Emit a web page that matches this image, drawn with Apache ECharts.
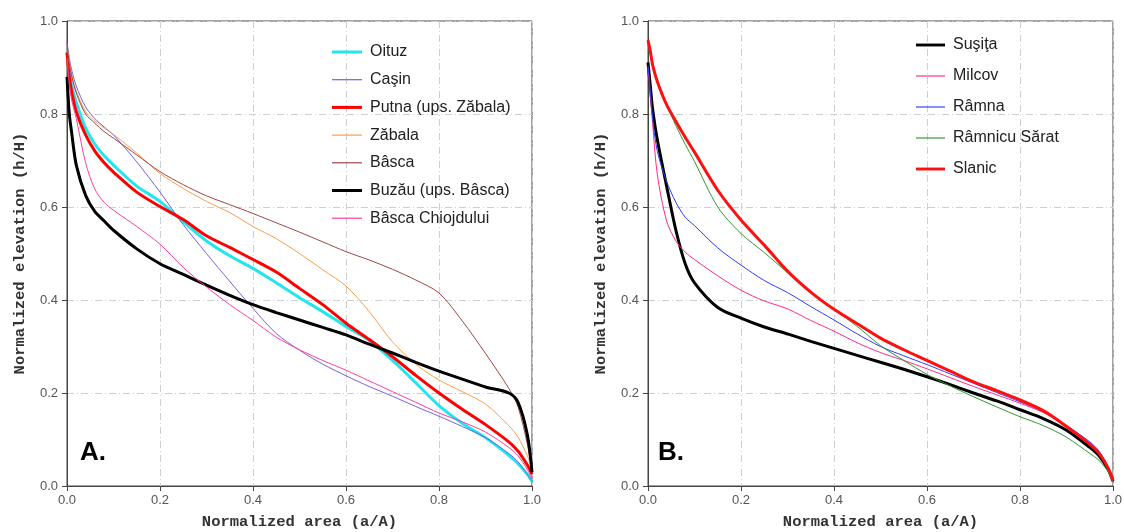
<!DOCTYPE html>
<html>
<head>
<meta charset="utf-8">
<script src="https://cdn.jsdelivr.net/npm/echarts@6/dist/echarts.min.js"></script>
<style>
  html, body { margin: 0; padding: 0; background: #fff; }
  #chart { width: 1124px; height: 532px; }
</style>
</head>
<body>
<div id="chart"></div>
<script>
// normalized area (a/A) sample positions shared by every curve
const areaSteps = [0, 0.005, 0.01, 0.02, 0.04, 0.06, 0.08, 0.1, 0.15, 0.2, 0.25, 0.3, 0.35, 0.4,
  0.45, 0.5, 0.55, 0.6, 0.65, 0.7, 0.75, 0.8, 0.85, 0.9, 0.95, 0.97, 0.99, 1];

// panel A – normalized elevation (h/H)
const oituz = [0.935, 0.895, 0.862, 0.825, 0.77, 0.735, 0.71, 0.69, 0.645, 0.612, 0.568, 0.527, 0.495, 0.468,
  0.437, 0.405, 0.375, 0.343, 0.313, 0.27, 0.222, 0.173, 0.135, 0.104, 0.066, 0.048, 0.025, 0.01];
const casin = [0.955, 0.92, 0.895, 0.86, 0.815, 0.79, 0.772, 0.755, 0.697, 0.632, 0.562, 0.5, 0.44, 0.382,
  0.328, 0.292, 0.262, 0.237, 0.214, 0.193, 0.171, 0.15, 0.128, 0.104, 0.07, 0.052, 0.025, 0.01];
const putna = [0.932, 0.88, 0.848, 0.805, 0.755, 0.72, 0.695, 0.675, 0.632, 0.601, 0.573, 0.538, 0.513, 0.487,
  0.46, 0.425, 0.39, 0.35, 0.315, 0.278, 0.238, 0.2, 0.165, 0.132, 0.095, 0.075, 0.045, 0.025];
const zabala = [0.95, 0.912, 0.885, 0.85, 0.805, 0.785, 0.77, 0.756, 0.716, 0.672, 0.64, 0.612, 0.588, 0.558,
  0.532, 0.5, 0.465, 0.43, 0.375, 0.31, 0.262, 0.228, 0.203, 0.176, 0.13, 0.105, 0.065, 0.04];
const basca = [0.95, 0.908, 0.882, 0.845, 0.8, 0.78, 0.762, 0.748, 0.712, 0.676, 0.648, 0.624, 0.605, 0.586,
  0.566, 0.546, 0.525, 0.504, 0.486, 0.466, 0.443, 0.415, 0.355, 0.285, 0.21, 0.17, 0.09, 0.03];
const buzau = [0.88, 0.8, 0.76, 0.69, 0.625, 0.59, 0.57, 0.55, 0.51, 0.478, 0.455, 0.432, 0.41, 0.39,
  0.373, 0.357, 0.341, 0.325, 0.305, 0.286, 0.266, 0.247, 0.23, 0.213, 0.2, 0.18, 0.11, 0.03];
const bascaChiojdului = [0.92, 0.865, 0.83, 0.79, 0.695, 0.638, 0.61, 0.593, 0.558, 0.52, 0.47, 0.428, 0.39, 0.356,
  0.32, 0.293, 0.27, 0.249, 0.226, 0.203, 0.18, 0.157, 0.138, 0.116, 0.083, 0.065, 0.035, 0.015];

// panel B – normalized elevation (h/H)
const susita = [0.911, 0.86, 0.81, 0.745, 0.645, 0.55, 0.478, 0.437, 0.384, 0.361, 0.342, 0.327, 0.311, 0.296,
  0.281, 0.266, 0.251, 0.235, 0.218, 0.2, 0.183, 0.164, 0.145, 0.12, 0.083, 0.065, 0.035, 0.01];
const milcov = [0.9, 0.84, 0.78, 0.67, 0.57, 0.527, 0.503, 0.487, 0.452, 0.421, 0.398, 0.381, 0.356, 0.333,
  0.308, 0.287, 0.27, 0.252, 0.233, 0.214, 0.196, 0.178, 0.158, 0.13, 0.09, 0.07, 0.035, 0.01];
const ramna = [0.905, 0.85, 0.79, 0.72, 0.655, 0.61, 0.578, 0.56, 0.512, 0.475, 0.442, 0.416, 0.386, 0.357,
  0.327, 0.3, 0.28, 0.261, 0.241, 0.221, 0.201, 0.181, 0.16, 0.13, 0.095, 0.075, 0.04, 0.01];
const ramnicuSarat = [0.959, 0.935, 0.91, 0.87, 0.82, 0.775, 0.735, 0.698, 0.6, 0.543, 0.502, 0.459, 0.418, 0.38,
  0.343, 0.302, 0.27, 0.24, 0.215, 0.192, 0.17, 0.149, 0.13, 0.105, 0.07, 0.055, 0.03, 0.008];
const slanic = [0.959, 0.935, 0.905, 0.87, 0.82, 0.784, 0.75, 0.718, 0.636, 0.572, 0.518, 0.462, 0.417, 0.38,
  0.349, 0.318, 0.293, 0.27, 0.247, 0.224, 0.205, 0.185, 0.162, 0.128, 0.09, 0.07, 0.038, 0.012];

const panelLabels = ["A.", "B."];

const SANS = "'Liberation Sans', Arial, sans-serif";
const MONO = "'Liberation Mono', 'Courier New', monospace";

const chart = echarts.init(document.getElementById("chart"), null, { renderer: "canvas" });

const grids = [
  { left: 67, top: 21, width: 465, height: 465 },
  { left: 648, top: 21, width: 465, height: 465 },
].map((g) => ({
  ...g, show: true, borderColor: "#444", borderWidth: 1,
  backgroundColor: "transparent", containLabel: false, outerBoundsMode: "none",
}));

const splitStyle = { lineStyle: { color: "#cfcfcf", width: 1, type: [7, 3, 1, 3] } };
const labelStyle = { color: "#555", fontSize: 13, fontFamily: SANS, formatter: (v) => v.toFixed(1) };
const nameStyle = { fontFamily: MONO, fontWeight: "bold", fontSize: 15.5, color: "#333" };

function xAxis(i) {
  return {
    type: "value", gridIndex: i, min: 0, max: 1, interval: 0.2,
    name: "Normalized area (a/A)", nameLocation: "middle", nameGap: 28,
    nameTextStyle: nameStyle,
    axisLine: { show: true, onZero: false, lineStyle: { color: "#444", width: 1 } },
    axisTick: { show: true, length: 5, lineStyle: { color: "#444" } },
    axisLabel: { ...labelStyle, margin: 8 },
    splitLine: { show: true, ...splitStyle },
  };
}
function yAxis(i) {
  return {
    type: "value", gridIndex: i, min: 0, max: 1, interval: 0.2,
    name: "Normalized elevation (h/H)", nameLocation: "middle", nameGap: 39,
    nameTextStyle: nameStyle,
    axisLine: { show: true, onZero: false, lineStyle: { color: "#444", width: 1 } },
    axisTick: { show: true, length: 5, lineStyle: { color: "#444" } },
    axisLabel: { ...labelStyle, margin: 9 },
    splitLine: { show: true, ...splitStyle },
  };
}

function curve(name, values, color, width, idx) {
  return {
    type: "line", name, xAxisIndex: idx, yAxisIndex: idx,
    data: areaSteps.map((a, k) => [a, values[k]]),
    symbol: "none", showSymbol: false, smooth: 0.3,
    lineStyle: { color, width }, itemStyle: { color },
    emphasis: { disabled: true },
  };
}

const seriesA = [
  curve("Oituz", oituz, "#22e6ee", 3, 0),
  curve("Caşin", casin, "#7262e0", 1, 0),
  curve("Putna (ups. Zăbala)", putna, "#ff0000", 3, 0),
  curve("Zăbala", zabala, "#f7a048", 1, 0),
  curve("Bâsca", basca, "#9c4646", 1, 0),
  curve("Buzău (ups. Bâsca)", buzau, "#000000", 3, 0),
  curve("Bâsca Chiojdului", bascaChiojdului, "#ff3d9e", 1, 0),
];
const seriesB = [
  curve("Suşiţa", susita, "#000000", 3, 1),
  curve("Milcov", milcov, "#ff2a85", 1, 1),
  curve("Râmna", ramna, "#2a3cff", 1, 1),
  curve("Râmnicu Sărat", ramnicuSarat, "#349434", 1, 1),
  curve("Slanic", slanic, "#ff1010", 3, 1),
];

// legend swatch: a plain bar as thick as the series line
const legendItems = (list) => list.map((s) => ({
  name: s.name,
  icon: s.lineStyle.width > 2 ? "path://M0,0H30V3H0Z" : "path://M0,0H30V1.2H0Z",
}));
const legendText = { color: "#222", fontSize: 16, fontFamily: SANS, padding: [0, 0, 0, 3] };

chart.setOption({
  animation: false,
  backgroundColor: "#fff",
  grid: grids,
  xAxis: [xAxis(0), xAxis(1)],
  yAxis: [yAxis(0), yAxis(1)],
  legend: [
    {
      data: legendItems(seriesA), orient: "vertical", left: 332, top: 44,
      itemWidth: 30, itemHeight: 14, itemGap: 11.7, padding: 0, selectedMode: false,
      textStyle: legendText,
    },
    {
      data: legendItems(seriesB), orient: "vertical", left: 916, top: 37,
      itemWidth: 29, itemHeight: 14, itemGap: 15, padding: 0, selectedMode: false,
      textStyle: legendText,
    },
  ],
  graphic: panelLabels.map((t, i) => ({
    type: "text", x: i === 0 ? 80 : 658, y: 453,
    style: { text: t, fill: "#000", font: "bold 26px " + SANS, verticalAlign: "middle" },
  })),
  series: [...seriesA, ...seriesB],
});
</script>
</body>
</html>
